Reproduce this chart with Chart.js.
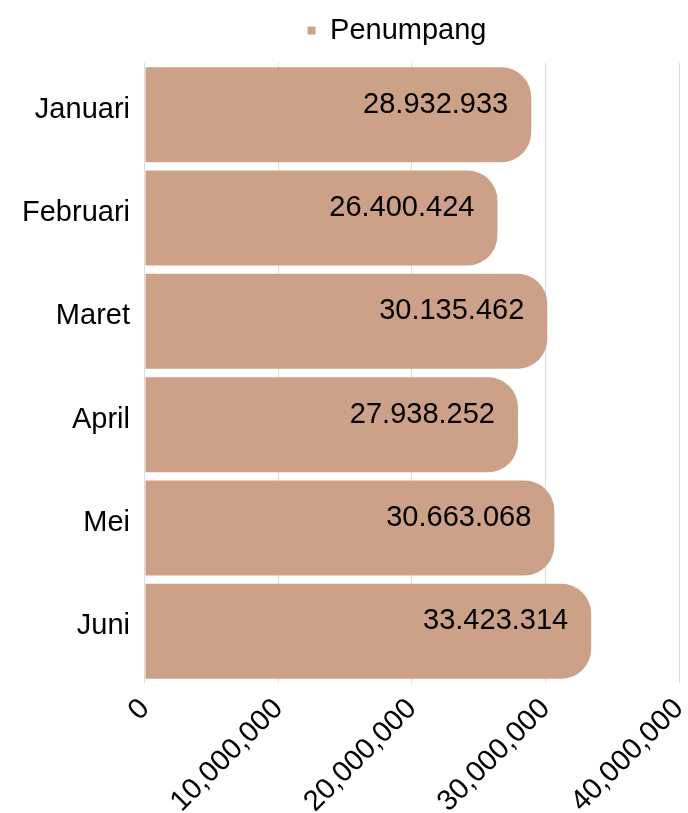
<!DOCTYPE html>
<html lang="id">
<head>
  <meta charset="UTF-8">
  <title>Penumpang per Bulan</title>
  <script src="https://cdn.jsdelivr.net/npm/chart.js"></script>
  <style>
    html, body { margin: 0; padding: 0; background: #fff; }
    #wrap { width: 688px; height: 813px; }
  </style>
</head>
<body>
  <div id="wrap"><canvas id="chart"></canvas></div>

  <script>
    const months = ['Januari', 'Februari', 'Maret', 'April', 'Mei', 'Juni'];
    const passengers = [28932933, 26400424, 30135462, 27938252, 30663068, 33423314];
    const xTicks = [0, 10000000, 20000000, 30000000, 40000000];

    const barColor = '#cca187';
    const fontFamily = '"Liberation Sans", Arial, sans-serif';

    function groupDigits(n, sep) {
      return String(n).replace(/\B(?=(\d{3})+(?!\d))/g, sep);
    }

    // value text drawn inside the end of each bar
    const barValues = {
      id: 'barValues',
      afterDatasetsDraw(chart) {
        const ctx = chart.ctx;
        const meta = chart.getDatasetMeta(0);
        ctx.save();
        ctx.font = '29px ' + fontFamily;
        ctx.fillStyle = '#000';
        ctx.textAlign = 'right';
        ctx.textBaseline = 'middle';
        meta.data.forEach((bar, i) => {
          const v = chart.data.datasets[0].data[i];
          ctx.fillText(groupDigits(v, '.'), bar.x - 23, bar.y - 10);
        });
        ctx.restore();
      }
    };

    // a bit more room under the legend, and nudge it left of the plot centre
    const legendSpacing = {
      id: 'legendSpacing',
      beforeLayout(chart) {
        const lg = chart.legend;
        if (lg && !lg._spaced) {
          const fit = lg.fit;
          lg.fit = function () { fit.call(this); this.height += 8; };
          lg._spaced = true;
        }
      },
      afterLayout(chart) {
        const lg = chart.legend;
        if (lg) { lg.left -= 15; lg.right -= 15; }
      }
    };

    new Chart(document.getElementById('chart'), {
      type: 'bar',
      data: {
        labels: months,
        datasets: [{
          label: 'Penumpang',
          data: passengers,
          backgroundColor: barColor,
          borderWidth: 0,
          borderRadius: { topLeft: 0, bottomLeft: 0, topRight: 30, bottomRight: 30 },
          borderSkipped: false,
          barPercentage: 0.92,
          categoryPercentage: 1
        }]
      },
      options: {
        indexAxis: 'y',
        responsive: true,
        maintainAspectRatio: false,
        animation: false,
        layout: { padding: { left: 7, right: 9, top: 0, bottom: 0 } },
        plugins: {
          legend: {
            position: 'top',
            fullSize: false,
            labels: {
              boxWidth: 8,
              boxHeight: 8,
              color: '#000',
              padding: 16,
              font: { family: fontFamily, size: 29 }
            }
          },
          tooltip: { enabled: false }
        },
        scales: {
          x: {
            min: 0,
            max: 40000000,
            afterBuildTicks(axis) {
              axis.ticks = xTicks.map(v => ({ value: v }));
            },
            afterFit(axis) {
              axis.height = 130;
              axis.paddingRight = 0;
            },
            grid: { color: '#dcdcdc', lineWidth: 1, drawTicks: false },
            border: { display: false },
            ticks: {
              color: '#000',
              padding: 9,
              minRotation: 45,
              maxRotation: 45,
              font: { family: fontFamily, size: 29 },
              callback: v => groupDigits(v, ',')
            }
          },
          y: {
            grid: { display: false, drawTicks: false },
            border: { display: false },
            ticks: {
              color: '#000',
              padding: 15,
              labelOffset: -5,
              font: { family: fontFamily, size: 29 }
            }
          }
        }
      },
      plugins: [barValues, legendSpacing]
    });
  </script>
</body>
</html>
